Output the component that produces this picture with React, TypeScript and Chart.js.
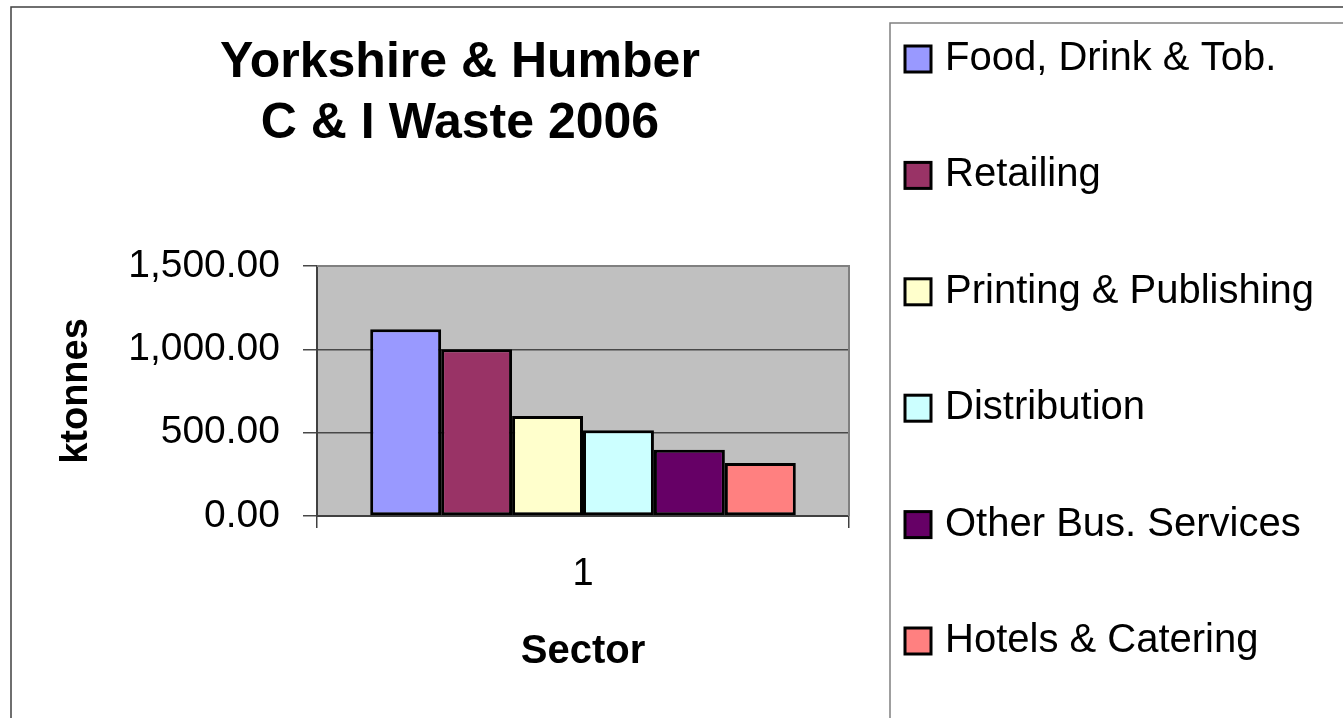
import React, { useEffect, useRef } from "react";
import { Chart, registerables } from "chart.js";

Chart.register(...registerables);

// ---- data ----
const categories = ["1"];
const sectors = [
  "Food, Drink & Tob.",
  "Retailing",
  "Printing & Publishing",
  "Distribution",
  "Other Bus. Services",
  "Hotels & Catering",
];
const ktonnes = [1120, 1000, 600, 515, 398, 318];
const sectorColors = ["#9999FF", "#993366", "#FFFFCC", "#CCFFFF", "#660066", "#FF8080"];
const titleLines = ["Yorkshire & Humber", "C & I Waste 2006"];
const yAxisTitle = "ktonnes";
const xAxisTitle = "Sector";
const yMin = 0;
const yMax = 1500;
const yStep = 500;

const FONT = '"Liberation Sans", Arial, Helvetica, sans-serif';
const W = 1343;
const H = 718;

const decorPlugin = {
  id: "decor",
  beforeDraw(chart: any) {
    const { ctx, chartArea: a } = chart;
    ctx.save();
    ctx.fillStyle = "#ffffff";
    ctx.fillRect(0, 0, chart.width, chart.height);
    ctx.fillStyle = "#C0C0C0";
    ctx.fillRect(a.left, a.top, a.right - a.left, a.bottom - a.top);
    // outer chart frame
    ctx.strokeStyle = "#404040";
    ctx.lineWidth = 1.5;
    ctx.beginPath();
    ctx.moveTo(11, chart.height + 2);
    ctx.lineTo(11, 7);
    ctx.lineTo(chart.width + 2, 7);
    ctx.stroke();
    // legend frame
    ctx.strokeStyle = "#808080";
    ctx.beginPath();
    ctx.moveTo(890, chart.height + 2);
    ctx.lineTo(890, 23);
    ctx.lineTo(chart.width + 2, 23);
    ctx.stroke();
    ctx.restore();
  },
  beforeDatasetsDraw(chart: any) {
    const { ctx, chartArea: a } = chart;
    ctx.save();
    ctx.strokeStyle = "#808080";
    ctx.lineWidth = 2;
    ctx.beginPath();
    ctx.moveTo(a.left, a.top);
    ctx.lineTo(a.right, a.top);
    ctx.lineTo(a.right, a.bottom);
    ctx.stroke();
    ctx.restore();
  },
  afterDraw(chart: any) {
    const { ctx } = chart;
    ctx.save();
    // title
    ctx.fillStyle = "#000";
    ctx.textAlign = "center";
    ctx.textBaseline = "alphabetic";
    ctx.font = `bold 50px ${FONT}`;
    titleLines.forEach((line, i) => {
      ctx.fillText(line, 460, 77 + i * 61);
    });
    // legend
    ctx.textAlign = "left";
    ctx.font = `40px ${FONT}`;
    chart.data.datasets.forEach((ds: any, i: number) => {
      const cy = 59 + i * 116.4;
      ctx.fillStyle = ds.backgroundColor;
      ctx.fillRect(905, cy - 13, 26, 26);
      ctx.strokeStyle = "#000";
      ctx.lineWidth = 3;
      ctx.strokeRect(905, cy - 13, 26, 26);
      ctx.fillStyle = "#000";
      ctx.fillText(ds.label, 945, cy + 11);
    });
    ctx.restore();
  },
};

export default function App() {
  const ref = useRef<HTMLCanvasElement | null>(null);

  useEffect(() => {
    if (!ref.current) return;
    const chart = new Chart(ref.current, {
      type: "bar",
      data: {
        labels: categories,
        datasets: sectors.map((label, i) => ({
          label,
          data: [ktonnes[i]],
          backgroundColor: sectorColors[i],
          borderColor: "#000000",
          borderWidth: 3,
          borderSkipped: false,
          categoryPercentage: 0.8,
          barPercentage: 1.0,
        })),
      },
      options: {
        responsive: false,
        animation: false,
        events: [],
        layout: { padding: { left: 0, top: 266, right: W - 849, bottom: 0 } },
        plugins: {
          legend: { display: false },
          title: { display: false },
          tooltip: { enabled: false },
        },
        scales: {
          x: {
            type: "category",
            offset: true,
            grid: {
              offset: true,
              drawOnChartArea: false,
              drawTicks: true,
              tickLength: 12,
              color: "#404040",
              lineWidth: 1.5,
            },
            border: { display: true, color: "#404040", width: 2 },
            ticks: {
              color: "#000",
              font: { family: FONT, size: 38 },
              padding: 24,
            },
            title: {
              display: true,
              text: xAxisTitle,
              color: "#000",
              font: { family: FONT, size: 40, weight: "bold" },
              padding: { top: 0, bottom: 42 },
            },
            afterFit: (s: any) => {
              s.height = H - 516;
            },
          },
          y: {
            min: yMin,
            max: yMax,
            ticks: {
              stepSize: yStep,
              color: "#000",
              font: { family: FONT, size: 39 },
              padding: 23,
              callback: (v: any) =>
                Number(v).toLocaleString("en-US", {
                  minimumFractionDigits: 2,
                  maximumFractionDigits: 2,
                }),
            },
            grid: {
              color: "#484848",
              lineWidth: 1.5,
              tickLength: 14,
            },
            border: { display: true, color: "#404040", width: 2 },
            title: {
              display: true,
              text: yAxisTitle,
              color: "#000",
              font: { family: FONT, size: 38, weight: "bold" },
              padding: { top: 54, bottom: 0 },
            },
            afterFit: (s: any) => {
              s.width = 317;
            },
          },
        },
      } as any,
      plugins: [decorPlugin],
    });
    return () => chart.destroy();
  }, []);

  return (
    <div style={{ position: "fixed", left: 0, top: 0, width: W, height: H, background: "#fff" }}>
      <canvas ref={ref} width={W} height={H} style={{ display: "block", width: W, height: H }} />
    </div>
  );
}
